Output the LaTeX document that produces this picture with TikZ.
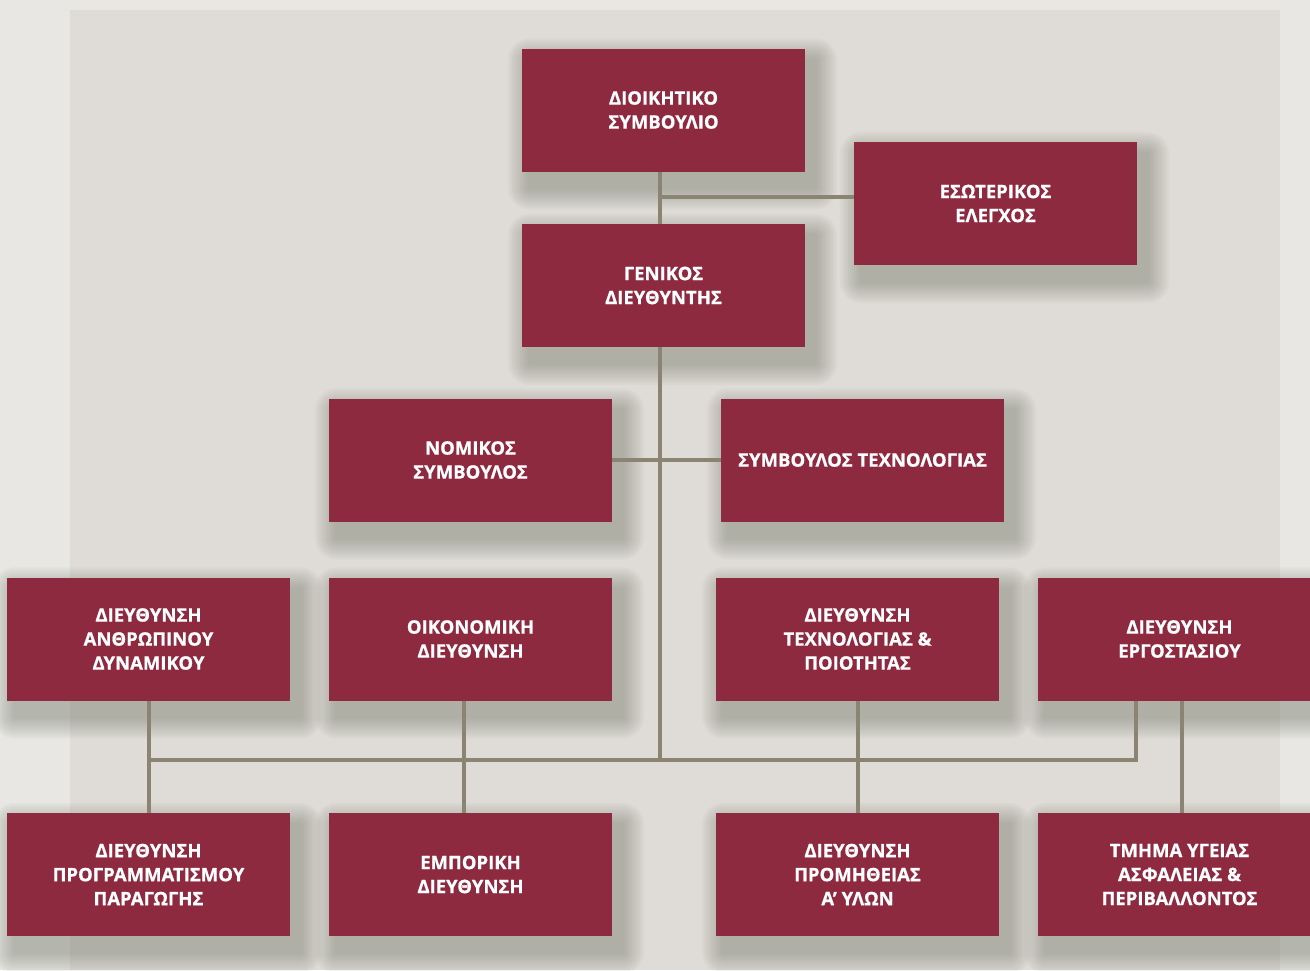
\documentclass[tikz,border=0pt]{standalone}
\usepackage{fontspec}
\setmainfont{Open Sans}[BoldFeatures={FakeBold=0.7}]
\definecolor{outerbg}{HTML}{E8E7E3}
\definecolor{innerbg}{HTML}{DFDCD7}
\definecolor{boxred}{HTML}{8E2A40}
\definecolor{linkcol}{HTML}{8B8472}
\definecolor{shadowcol}{HTML}{6E7262}
\pgfdeclarelayer{bg}
\pgfdeclarelayer{shadowlayer}
\pgfsetlayers{bg,shadowlayer,main}
\tikzset{
  orgbox/.style={rectangle, fill=boxred, text=white, inner sep=0pt,
    minimum width=283pt, minimum height=123pt, align=center,
    font=\fontsize{18.5}{24}\selectfont\bfseries},
  link/.style={draw=linkcol, line width=4pt}
}
\newcommand{\boxshadow}[1]{%
  \begin{pgfonlayer}{shadowlayer}
  \foreach \r in {2,4,...,22}{
    \fill[shadowcol, opacity=0.045, rounded corners=\r pt]
      ([xshift=8pt-\r pt, yshift=-12pt+\r pt]#1.north west) rectangle
      ([xshift=10pt+\r pt, yshift=-16pt-\r pt]#1.south east);
  }
  \end{pgfonlayer}}
\begin{document}
\begin{tikzpicture}[x=1pt,y=-1pt]
\useasboundingbox (0,0) rectangle (1310,970);
\begin{pgfonlayer}{bg}
\fill[outerbg] (0,0) rectangle (1310,970);
\fill[innerbg] (70,10) rectangle (1280,970);
\end{pgfonlayer}
\node[orgbox] (ds) at (663.5,110) {ΔΙΟΙΚΗΤΙΚΟ\\ΣΥΜΒΟΥΛΙΟ};
\node[orgbox] (gd) at (663.5,285.5) {ΓΕΝΙΚΟΣ\\ΔΙΕΥΘΥΝΤΗΣ};
\node[orgbox] (es) at (995.5,203.5) {ΕΣΩΤΕΡΙΚΟΣ\\ΕΛΕΓΧΟΣ};
\node[orgbox] (ns) at (470.5,460) {ΝΟΜΙΚΟΣ\\ΣΥΜΒΟΥΛΟΣ};
\node[orgbox] (st) at (862.5,460) {ΣΥΜΒΟΥΛΟΣ ΤΕΧΝΟΛΟΓΙΑΣ};
\node[orgbox] (dad) at (148.5,639) {ΔΙΕΥΘΥΝΣΗ\\ΑΝΘΡΩΠΙΝΟΥ\\ΔΥΝΑΜΙΚΟΥ};
\node[orgbox] (od) at (470.5,639) {ΟΙΚΟΝΟΜΙΚΗ\\ΔΙΕΥΘΥΝΣΗ};
\node[orgbox] (dtp) at (857.5,639) {ΔΙΕΥΘΥΝΣΗ\\ΤΕΧΝΟΛΟΓΙΑΣ \&\\ΠΟΙΟΤΗΤΑΣ};
\node[orgbox] (de) at (1179.5,639) {ΔΙΕΥΘΥΝΣΗ\\ΕΡΓΟΣΤΑΣΙΟΥ};
\node[orgbox] (dpp) at (148.5,874.5) {ΔΙΕΥΘΥΝΣΗ\\ΠΡΟΓΡΑΜΜΑΤΙΣΜΟΥ\\ΠΑΡΑΓΩΓΗΣ};
\node[orgbox] (ed) at (470.5,874.5) {ΕΜΠΟΡΙΚΗ\\ΔΙΕΥΘΥΝΣΗ};
\node[orgbox] (dpy) at (857.5,874.5) {ΔΙΕΥΘΥΝΣΗ\\ΠΡΟΜΗΘΕΙΑΣ\\Α’ ΥΛΩΝ};
\node[orgbox] (tyap) at (1179.5,874.5) {ΤΜΗΜΑ ΥΓΕΙΑΣ\\ΑΣΦΑΛΕΙΑΣ \&\\ΠΕΡΙΒΑΛΛΟΝΤΟΣ};
\foreach \n in {ds,gd,es,ns,st,dad,od,dtp,de,dpp,ed,dpy,tyap}{\boxshadow{\n}}
\coordinate (busR) at (1136,760);
\coordinate (esj) at (660,197);
% connectors
\path[link] ([xshift=-3.5pt]ds.south) -- ([xshift=-3.5pt]gd.north);
\path[link] (esj) -- (esj -| es.west);
\path[link] ([xshift=-3.5pt]gd.south) -- ([xshift=-3.5pt]gd.south |- busR);
\path[link] (ns.east) -- (st.west);
\path[link] (dad.south) -- (dpp.north);
\path[link] ([xshift=-7pt]od.south) -- ([xshift=-7pt]ed.north);
\path[link] (dtp.south) -- (dpy.north);
\path[link] ([xshift=2.5pt]de.south) -- ([xshift=2.5pt]tyap.north);
\path[link] (busR |- de.south) -- (busR);
\path[link] ([xshift=-2pt]dad.south |- busR) -- ([xshift=2pt]busR);
\end{tikzpicture}
\end{document}
